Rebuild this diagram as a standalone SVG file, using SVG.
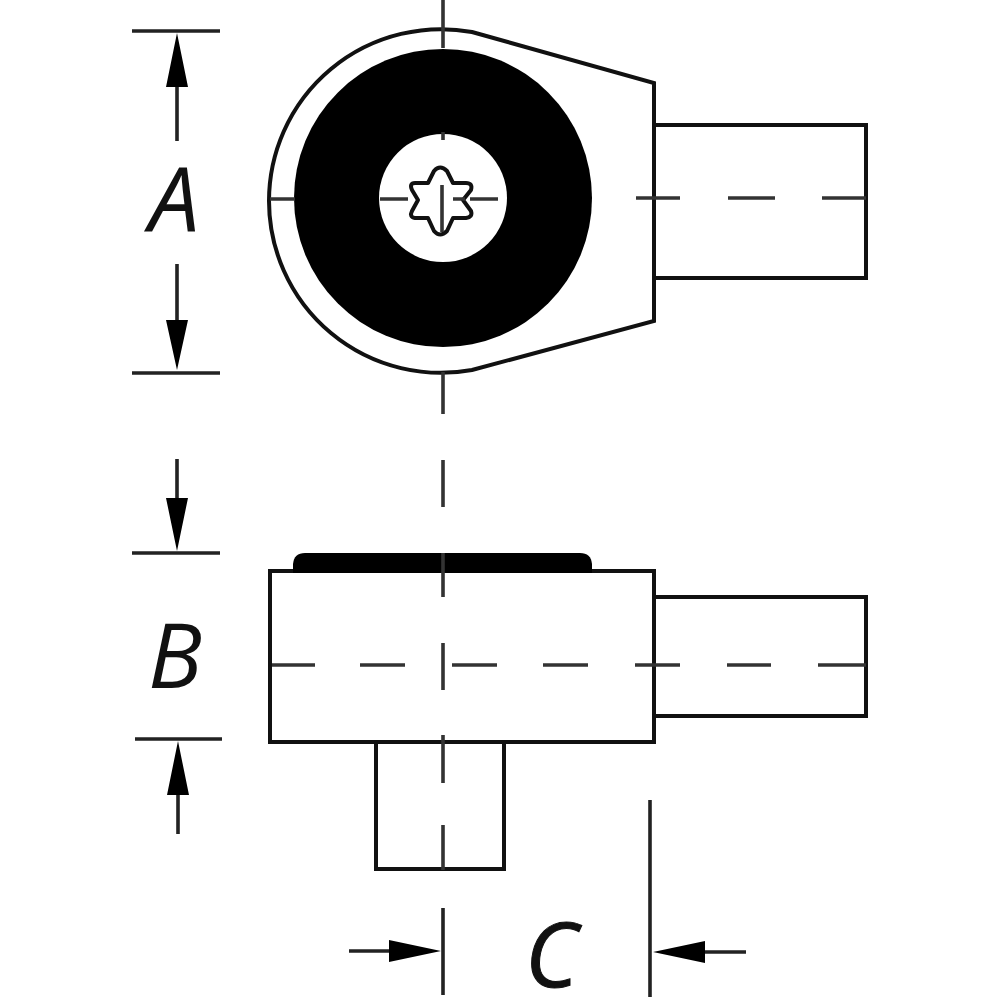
<svg xmlns="http://www.w3.org/2000/svg" width="1000" height="1000" viewBox="0 0 1000 1000">
<style>
.o{fill:none;stroke:#111;stroke-width:4}
.w{fill:#fff;stroke:#111;stroke-width:4}
.c{fill:none;stroke:#333;stroke-width:3.6}
.d{fill:none;stroke:#222;stroke-width:3.6}
.h{fill:#000}
.t{font-family:"Open Sans",sans-serif;font-style:italic;font-size:90px;fill:#111}
</style>
<rect width="1000" height="1000" fill="#fff"/>
<g id="top-view">
<rect class="o" x="654" y="125" width="212" height="153"/>
<path class="w" d="M472 32L654 83V321L472 370A172 172 0 0 1 269 201A172 172 0 0 1 472 32Z"/>
<circle class="h" cx="443" cy="198" r="149"/>
<circle cx="443" cy="198" r="64" fill="#fff"/>
<path class="o" stroke-linejoin="round" d="M428 183L434 171Q440 164 447 171L453 183L466 183Q473 183 471 190L463 200L471 211Q473 217 466 218L453 218L447 231Q440 238 434 231L428 218L415 218Q409 217 412 211L418 200L412 190Q409 183 415 183Z"/>
</g>
<g id="side-view">
<rect class="o" x="654" y="597" width="212" height="119"/>
<rect class="o" x="376" y="741" width="128" height="128"/>
<rect class="w" x="270" y="571" width="384" height="171"/>
<path class="h" d="M293 573V564Q294 553 305 553H580Q591 553 592 564V573Z"/>
</g>
<g id="centerlines">
<path class="c" d="M443 0V48M443 132V140M442 185V232M443 372V414M443 460V507M443 553V597M443 643V690M443 735V783M443 825V870"/>
<path class="c" d="M270 199H295M380 199H408M453 199H465M470 199H498M636 198H680M728 198H775M822 198H866"/>
<path class="c" d="M272 665H315M360 665H405M452 665H497M543 665H588M635 665H680M727 665H771M818 665H866"/>
</g>
<g id="dimensions">
<path class="d" d="M132 31H220M132 373H220M132 553H220M135 739H222M443 908V995M650 800V997"/>
<path class="d" d="M177 80V141M177 264V325M177 459V505M178 790V834M349 951H395M700 952H746"/>
<path class="h" d="M177 33L188 87H166ZM177 370L188 320H166ZM177 551L188 498H166ZM178 741L189 795H167ZM441 951L389 940V962ZM653 952L705 941V963Z"/>
</g>
<g id="labels">
<text class="t" x="149" y="231">A</text>
<text class="t" x="148" y="688">B</text>
<text class="t" x="525" y="987" stroke="#111" stroke-width="1">C</text>
</g>
</svg>
